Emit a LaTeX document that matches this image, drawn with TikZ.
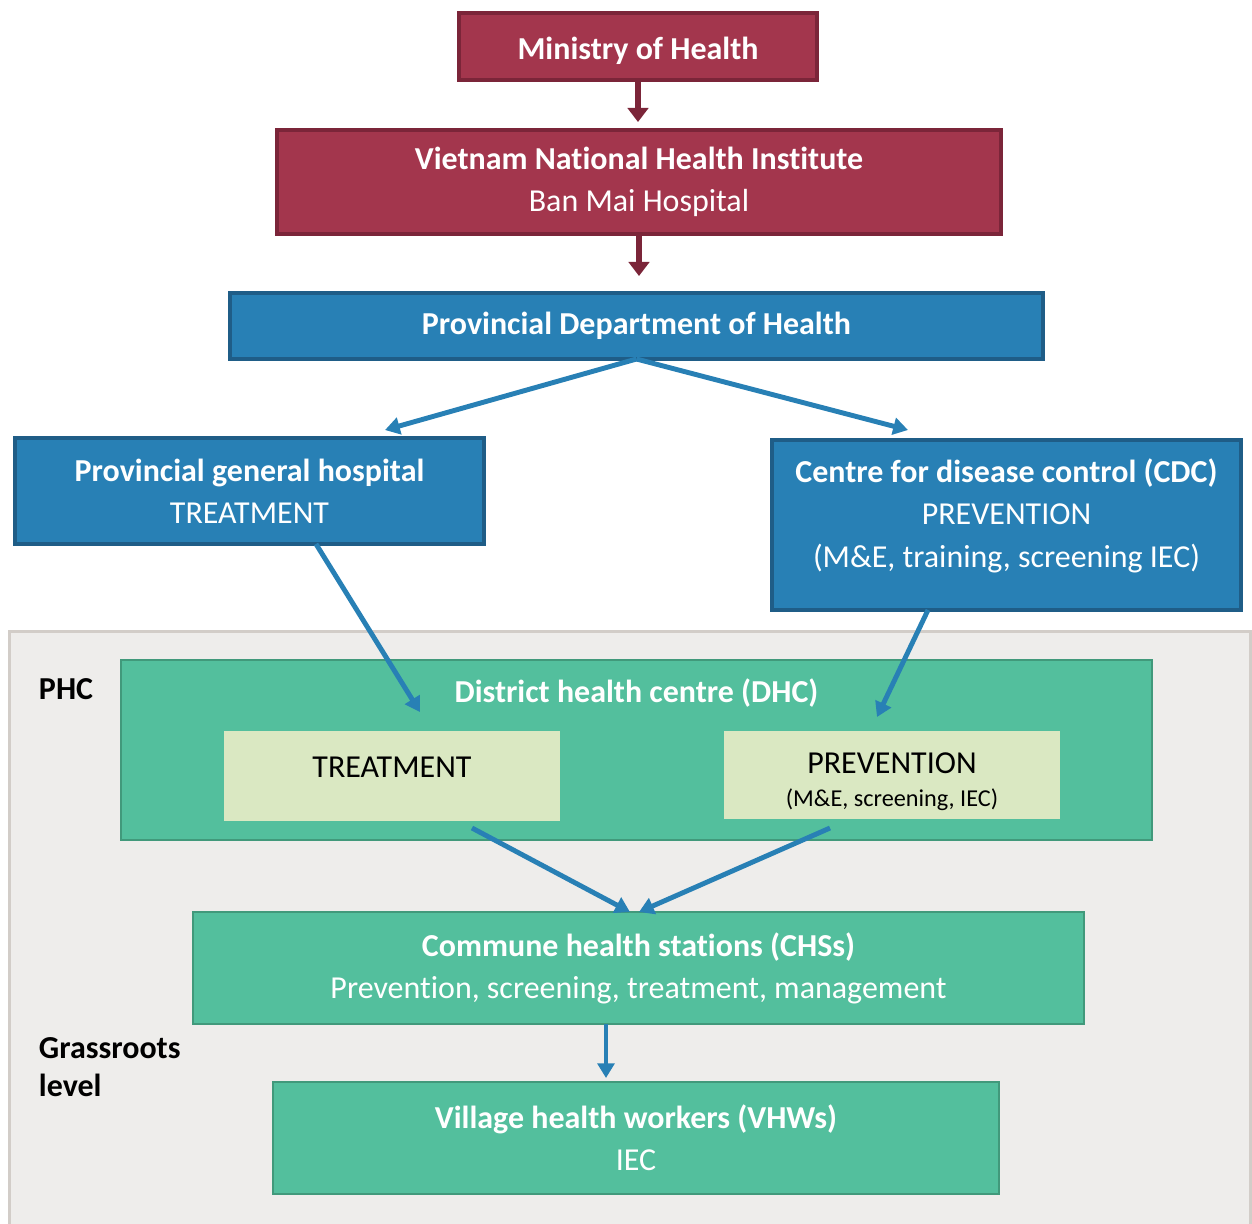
\documentclass[tikz,border=0pt]{standalone}
\usepackage{fontspec}
\setmainfont{Carlito}[Ligatures=NoCommon]
\usetikzlibrary{arrows.meta}
\definecolor{mohred}{HTML}{A3364D}
\definecolor{mohborder}{HTML}{7B2539}
\definecolor{pdohblue}{HTML}{2880B5}
\definecolor{pdohborder}{HTML}{1F5D87}
\definecolor{phcgreen}{HTML}{53BF9D}
\definecolor{greenborder}{HTML}{41997B}
\definecolor{palegreen}{HTML}{DAE8C2}
\definecolor{panelgray}{HTML}{EEEDEB}
\definecolor{panelborder}{HTML}{D2CDC8}
\begin{document}
\begin{tikzpicture}[inner sep=0pt,outer sep=0pt,font=\fontsize{9.1}{12}\selectfont,
redblock/.style={draw=mohborder,fill=mohred,line width=1.1pt,text=white,align=center,rectangle},
blueblock/.style={draw=pdohborder,fill=pdohblue,line width=1.1pt,text=white,align=center,rectangle},
greenblock/.style={draw=greenborder,fill=phcgreen,line width=0.5pt,text=white,align=center,rectangle},
paleblock/.style={fill=palegreen,text=black,align=center,rectangle},
redarrow/.style={draw=mohborder,line width=1.7pt,>={Triangle[length=4pt,width=5.8pt]}},
bluearrow/.style={draw=pdohblue,line width=1.4pt,>={Triangle[length=4.2pt,width=4.8pt]}}]
\useasboundingbox (0,0) rectangle (12.52,-12.23);
\draw[draw=panelborder,fill=panelgray,line width=0.9pt] (0.095,-6.315) rectangle (12.505,-12.6);

\draw (6.38,-0.465) node[redblock,minimum width=3.58cm,minimum height=0.67cm,text height=0.31cm,text depth=0.06cm] (moh) {\textbf{Ministry of Health}};
\draw (6.39,-1.82) node[redblock,minimum width=7.24cm,minimum height=1.04cm] (vnhi) {\textbf{Vietnam National Health Institute}\\Ban Mai Hospital};
\draw (6.365,-3.26) node[blueblock,minimum width=8.13cm,minimum height=0.66cm] (pdoh) {\textbf{Provincial Department of Health}};
\draw (2.495,-4.91) node[blueblock,minimum width=4.69cm,minimum height=1.06cm] (pgh) {\textbf{Provincial general hospital}\\TREATMENT};
\draw (10.065,-5.25) node[blueblock,minimum width=4.69cm,minimum height=1.70cm,text depth=0.24cm] (cdc) {\textbf{Centre for disease control (CDC)}\\PREVENTION\\(M\&E, training, screening IEC)};

\draw (0.39,-6.89) node[anchor=west] (phc) {\textbf{PHC}};
\draw (6.365,-7.50) node[greenblock,minimum width=10.31cm,minimum height=1.80cm,
  label={[text=white,anchor=north,yshift=-0.19cm]north:\textbf{District health centre (DHC)}}] (dhc) {};
\draw (3.92,-7.76) node[paleblock,minimum width=3.36cm,minimum height=0.90cm,text depth=0.18cm] (dtreat) {TREATMENT};
\draw (8.92,-7.75) node[paleblock,minimum width=3.36cm,minimum height=0.88cm,text height=0.67cm] (dprev) {PREVENTION\\[-2.7pt]{\fontsize{6.9}{9}\selectfont (M\&E, screening, IEC)}};
\draw (6.385,-9.68) node[greenblock,minimum width=8.91cm,minimum height=1.12cm] (chs) {\textbf{Commune health stations (CHSs)}\\Prevention, screening, treatment, management};
\draw (0.39,-10.67) node[anchor=west,align=left] (grass) {\textbf{Grassroots}\\[-1pt]\textbf{level}};
\draw (6.36,-11.38) node[greenblock,minimum width=7.26cm,minimum height=1.12cm] (vhw) {\textbf{Village health workers (VHWs)}\\IEC};

% arrow ends
\path (pgh.north) ++(1.355,0.08) coordinate (pghin);
\path (cdc.north) ++(-0.985,0.10) coordinate (cdcin);
\path (pgh.south) ++(0.665,0) coordinate (pghout);
\path (cdc.south) ++(-0.785,0) coordinate (cdcout);
\path (dtreat.north) ++(0.28,0.19) coordinate (dtreatin);
\path (dprev.north) ++(-0.15,0.14) coordinate (dprevin);
\path (dtreat.south) ++(0.80,-0.07) coordinate (dtreatout);
\path (dprev.south) ++(-0.62,-0.09) coordinate (dprevout);
\path (chs.south) ++(-0.325,0) coordinate (chsout);

\draw[redarrow,->,shorten >=0.08cm] (moh.south) -- (moh.south |- vnhi.north);
\draw[redarrow,->,shorten >=0.17cm] (vnhi.south) -- (vnhi.south |- pdoh.north);
\draw[bluearrow,->] (pdoh.south) -- (pghin);
\draw[bluearrow,->] (pdoh.south) -- (cdcin);
\draw[bluearrow,->] (pghout) -- (dtreatin);
\draw[bluearrow,->] (cdcout) -- (dprevin);
\draw[bluearrow,->] (dtreatout) -- ([xshift=-0.085cm]chs.north);
\draw[bluearrow,->] (dprevout) -- ([xshift=0.005cm]chs.north);
\draw[bluearrow,->,shorten >=0.04cm] (chsout) -- (chsout |- vhw.north);
\end{tikzpicture}
\end{document}
